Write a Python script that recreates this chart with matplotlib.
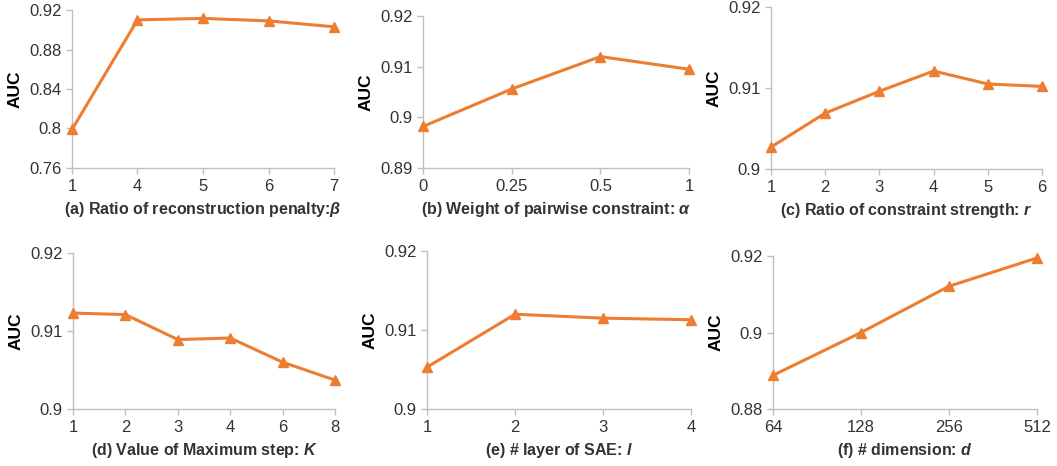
import numpy as np
import matplotlib
matplotlib.use('Agg')
import matplotlib.pyplot as plt

plt.rcParams['font.family'] = ['Liberation Sans', 'DejaVu Sans']
plt.rcParams['mathtext.fontset'] = 'custom'
plt.rcParams['mathtext.rm'] = 'Liberation Sans:bold'
plt.rcParams['mathtext.it'] = 'Liberation Sans:bold:italic'
plt.rcParams['mathtext.bf'] = 'Liberation Sans:bold'

# data
a_ticks = ['1', '4', '5', '6', '7']
a_auc = [0.799, 0.910, 0.9115, 0.909, 0.903]
b_ticks = ['0', '0.25', '0.5', '1']
b_auc = [0.8982, 0.9056, 0.9120, 0.9095]
c_ticks = ['1', '2', '3', '4', '5', '6']
c_auc = [0.9027, 0.9069, 0.9096, 0.9121, 0.9105, 0.9102]
d_ticks = ['1', '2', '3', '4', '6', '8']
d_auc = [0.9123, 0.9121, 0.9089, 0.9091, 0.9060, 0.9037]
e_ticks = ['1', '2', '3', '4']
e_auc = [0.9053, 0.9120, 0.9115, 0.9113]
f_ticks = ['64', '128', '256', '512']
f_auc = [0.8888, 0.9000, 0.9121, 0.9195]

panels = [
    (a_ticks, a_auc, [0.76, 0.80, 0.84, 0.88, 0.92], ['0.76', '0.8', '0.84', '0.88', '0.92'],
     r'(a) Ratio of reconstruction penalty:$\beta$', [0.0681, 0.6395, 0.2479, 0.339]),
    (b_ticks, b_auc, [0.89, 0.90, 0.91, 0.92], ['0.89', '0.9', '0.91', '0.92'],
     r'(b) Weight of pairwise constraint: $\alpha$', [0.4002, 0.6395, 0.2517, 0.326]),
    (c_ticks, c_auc, [0.90, 0.91, 0.92], ['0.9', '0.91', '0.92'],
     r'(c) Ratio of constraint strength: $r$', [0.7294, 0.6373, 0.2564, 0.3476]),
    (d_ticks, d_auc, [0.90, 0.91, 0.92], ['0.9', '0.91', '0.92'],
     r'(d) Value of Maximum step: $K$', [0.0691, 0.1223, 0.2479, 0.3348]),
    (e_ticks, e_auc, [0.90, 0.91, 0.92], ['0.9', '0.91', '0.92'],
     r'(e) # layer of SAE: $l$', [0.404, 0.1223, 0.2498, 0.339]),
    (f_ticks, f_auc, [0.88, 0.90, 0.92], ['0.88', '0.9', '0.92'],
     r'(f) # dimension: $d$', [0.7313, 0.1223, 0.2498, 0.3283]),
]

orange = '#ED7D31'
grey = '#BFBFBF'

fig = plt.figure(figsize=(10.57, 4.66), dpi=100)
for ticks, auc, yt, ytl, label, pos in panels:
    ax = fig.add_axes(pos)
    x = np.arange(len(ticks))
    ax.plot(x, auc, color=orange, lw=2.2, marker='^', ms=7, clip_on=False, zorder=3)
    ax.set_xlim(0, len(ticks) - 1)
    ax.set_ylim(yt[0], yt[-1])
    ax.set_xticks(x)
    ax.set_xticklabels(ticks)
    ax.set_yticks(yt)
    ax.set_yticklabels(ytl)
    for s in ['top', 'right']:
        ax.spines[s].set_visible(False)
    for s in ['left', 'bottom']:
        ax.spines[s].set_color(grey)
        ax.spines[s].set_linewidth(1.0)
    ax.tick_params(axis='both', colors=grey, labelcolor='#333333', labelsize=12,
                   length=4, width=1.0)
    ax.tick_params(axis='x', pad=4)
    ax.set_xlabel(label, fontsize=11.5, fontweight='bold', color='#333333', labelpad=4)
    ax.set_ylabel('AUC', fontsize=12.5, fontweight='bold', color='black', labelpad=5)

fig.savefig('out.png', dpi=100)
